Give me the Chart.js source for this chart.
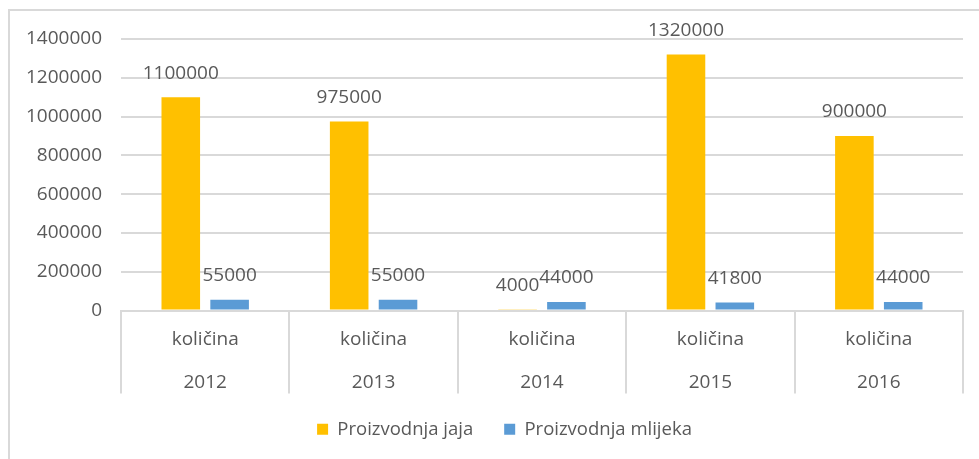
<!DOCTYPE html>
<html>
<head>
<meta charset="utf-8">
<script src="https://cdn.jsdelivr.net/npm/chart.js@4"></script>
<style>
    html, body { margin: 0; padding: 0; background: #fff; overflow: hidden; width: 979px; height: 459px; }
    #okvir { position: absolute; left: 8px; top: 9px; width: 1000px; height: 460px; border-left: 2px solid #d9d9d9; border-top: 2px solid #d9d9d9; }
    #wrap { position: absolute; left: 0; top: 0; width: 1009px; height: 459px; }
</style>
</head>
<body>
<div id="okvir"></div>
<div id="wrap"><canvas id="grafikon"></canvas></div>
<script>
// Podaci sa slike
const godine = ['2012', '2013', '2014', '2015', '2016'];
const podkategorija = 'količina';
const jaja = [1100000, 975000, 4000, 1320000, 900000];
const mlijeko = [55000, 55000, 44000, 41800, 44000];
const yTicks = [0, 200000, 400000, 600000, 800000, 1000000, 1200000, 1400000];

const SIVA = '#d9d9d9';
const TEKST = '#595959';
const FONT = "'Open Sans', sans-serif";
const VEL = 19;

// Oznake vrijednosti iznad stupaca (kao u Excelu)
const oznakePlugin = {
    id: 'oznake',
    afterDatasetsDraw(chart) {
        const ctx = chart.ctx;
        ctx.save();
        ctx.font = VEL + 'px ' + FONT;
        ctx.fillStyle = TEKST;
        ctx.textAlign = 'center';
        ctx.textBaseline = 'middle';
        chart.data.datasets.forEach((ds, i) => {
            chart.getDatasetMeta(i).data.forEach((bar, j) => {
                ctx.fillText(String(ds.data[j]), bar.x, bar.y - 24);
            });
        });
        ctx.restore();
    }
};

// Legenda centrirana na cijeloj širini okvira i malo podignuta
const legendaPomak = {
    id: 'legendaPomak',
    afterLayout(chart) {
        const lg = chart.legend;
        if (!lg) return;
        lg.left = 0;
        lg.right = chart.width;
        lg.top -= 9.5;
        lg.bottom -= 9.5;
    }
};

new Chart(document.getElementById('grafikon').getContext('2d'), {
    type: 'bar',
    data: {
        labels: godine.map(g => [podkategorija, g]),
        datasets: [
            { label: 'Proizvodnja jaja', data: jaja, backgroundColor: '#FFC000' },
            { label: 'Proizvodnja mlijeka', data: mlijeko, backgroundColor: '#5B9BD5' }
        ]
    },
    options: {
        responsive: true,
        maintainAspectRatio: false,
        animation: false,
        layout: { padding: { left: 0, top: 39, right: 46, bottom: 1 } },
        datasets: { bar: { categoryPercentage: 0.58, barPercentage: 0.79 } },
        plugins: {
            tooltip: { enabled: false },
            legend: {
                position: 'bottom',
                labels: {
                    font: { size: 18.5, family: FONT },
                    color: TEKST,
                    boxWidth: 11,
                    boxHeight: 11,
                    padding: 31
                }
            }
        },
        scales: {
            x: {
                grid: { display: true, offset: true, drawOnChartArea: false, tickLength: 83, color: SIVA, lineWidth: 2 },
                border: { display: true, color: SIVA, width: 2 },
                ticks: { font: { size: VEL, family: FONT, lineHeight: 43 / VEL }, color: TEKST, padding: -75.5, maxRotation: 0 },
                afterFit(scale) { scale.height = 88; }
            },
            y: {
                min: 0,
                max: 1400000,
                grid: { color: SIVA, lineWidth: 2, drawTicks: false },
                border: { display: false },
                afterBuildTicks(scale) { scale.ticks = yTicks.map(v => ({ value: v })); },
                ticks: { font: { size: VEL, family: FONT }, color: TEKST, padding: 19, callback: v => String(v) },
                afterFit(scale) { scale.width = 121; }
            }
        }
    },
    plugins: [oznakePlugin, legendaPomak]
});
</script>
</body>
</html>
